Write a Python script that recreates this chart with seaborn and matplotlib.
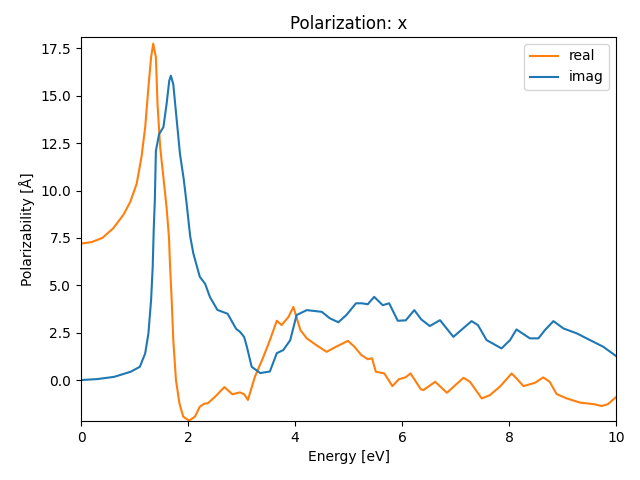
import matplotlib
matplotlib.use("Agg")
import matplotlib.pyplot as plt
import seaborn as sns
import pandas as pd

# Real part
energy_real = [0.0, 0.2, 0.4, 0.6, 0.8, 0.92, 1.04, 1.13, 1.2, 1.26, 1.31, 1.35, 1.40, 1.43,
               1.48, 1.54, 1.60, 1.645, 1.66, 1.695, 1.725, 1.775, 1.84, 1.91, 2.02, 2.13,
               2.22, 2.3, 2.37, 2.5, 2.68, 2.83,
               2.97, 3.05, 3.12, 3.25, 3.41, 3.53, 3.66, 3.75, 3.88, 3.97, 4.10, 4.22, 4.40,
               4.59, 4.77, 4.99, 5.11, 5.24, 5.36, 5.44, 5.51, 5.67, 5.82, 5.94, 6.07, 6.16,
               6.35, 6.4, 6.62, 6.84, 7.15, 7.27, 7.49, 7.64, 7.83, 8.05, 8.14, 8.27, 8.49,
               8.64, 8.76, 8.89, 9.08, 9.33, 9.58, 9.73, 9.85, 10.0]
real = [7.20, 7.28, 7.5, 8.0, 8.75, 9.4, 10.35, 11.76, 13.34, 15.45, 17.03, 17.75, 17.03, 14.57,
        12.28, 10.7, 9.1, 7.5, 6.33, 4.22, 2.11, 0.0, -1.23, -1.93, -2.14, -1.93,
        -1.41, -1.25, -1.22, -0.9, -0.37, -0.75,
        -0.65, -0.75, -1.05, 0.17, 1.23, 2.1, 3.13, 2.9, 3.34, 3.86, 2.64, 2.2, 1.84,
        1.49, 1.76, 2.07, 1.76, 1.32, 1.1, 1.15, 0.44, 0.35, -0.32, 0.04, 0.15, 0.35,
        -0.48, -0.53, -0.09, -0.67, 0.12, -0.09, -0.97, -0.8, -0.35, 0.35, 0.09, -0.32, -0.14,
        0.14, -0.09, -0.74, -0.97, -1.19, -1.27, -1.37, -1.27, -0.9]

# Imaginary part
energy_imag = [0.0, 0.3, 0.62, 0.93, 1.1, 1.2, 1.26, 1.31, 1.34, 1.36, 1.38, 1.40, 1.46, 1.54,
               1.60, 1.65, 1.68, 1.725, 1.79, 1.85, 1.92, 1.975, 2.04, 2.10, 2.22, 2.32, 2.41,
               2.55, 2.74, 2.90, 2.97, 3.05, 3.10,
               3.19, 3.35, 3.53, 3.66, 3.78, 3.91, 4.03, 4.22, 4.50, 4.65, 4.81, 4.96, 5.14,
               5.25, 5.36, 5.48, 5.64, 5.76, 5.92, 6.07, 6.23, 6.36, 6.52, 6.71, 6.96, 7.30,
               7.42, 7.58, 7.86, 8.02, 8.14, 8.39, 8.55, 8.67, 8.83, 9.02, 9.27, 9.45, 9.64,
               9.76, 10.0]
imag = [0.0, 0.05, 0.17, 0.44, 0.70, 1.41, 2.46, 4.22, 5.97, 8.0, 9.5, 12.1, 12.98, 13.34,
        14.57, 15.8, 16.06, 15.6, 13.69, 11.93, 10.6, 9.3, 7.6, 6.68, 5.45, 5.08, 4.38,
        3.7, 3.5, 2.7, 2.55, 2.27, 1.76,
        0.70, 0.37, 0.45, 1.42, 1.58, 2.1, 3.43, 3.69, 3.6, 3.26, 3.05, 3.43, 4.05,
        4.05, 4.0, 4.39, 3.95, 4.05, 3.13, 3.15, 3.69, 3.2, 2.85, 3.16, 2.28, 3.11,
        2.9, 2.11, 1.67, 2.11, 2.67, 2.2, 2.2, 2.63, 3.11, 2.72, 2.46, 2.2, 1.93,
        1.76, 1.27]

df = pd.concat([
    pd.DataFrame({"Energy": energy_real, "value": real, "part": "real"}),
    pd.DataFrame({"Energy": energy_imag, "value": imag, "part": "imag"}),
], ignore_index=True)

fig, ax = plt.subplots(figsize=(6.4, 4.8), dpi=100)
sns.lineplot(data=df, x="Energy", y="value", hue="part", hue_order=["real", "imag"],
             palette={"real": "#ff7f0e", "imag": "#1f77b4"}, sort=False,
             estimator=None, linewidth=1.5, ax=ax)
ax.set_xlim(0, 10)
ax.set_ylim(-2.16, 18.1)
ax.set_title("Polarization: x")
ax.set_xlabel("Energy [eV]")
ax.set_ylabel("Polarizability [Å]")
ax.legend(loc="upper right", title=None)
fig.subplots_adjust(left=81 / 640, right=616 / 640, bottom=(480 - 421) / 480, top=(480 - 37) / 480)
fig.savefig("out.png", dpi=100)
